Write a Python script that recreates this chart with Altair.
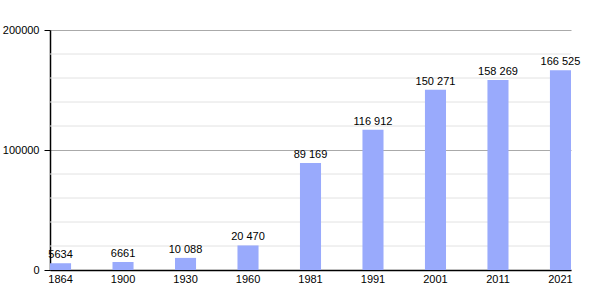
import altair as alt
import pandas as pd

years = ["1864", "1900", "1930", "1960", "1981", "1991", "2001", "2011", "2021"]
population = [5634, 6661, 10088, 20470, 89169, 116912, 150271, 158269, 166525]
labels = ["5634", "6661", "10 088", "20 470", "89 169", "116 912", "150 271", "158 269", "166 525"]
minor_grid = [20000, 40000, 60000, 80000, 120000, 140000, 160000, 180000]

df = pd.DataFrame({"year": years, "pop": population, "label": labels})
gdf = pd.DataFrame({"v": minor_grid})

FONT = "Liberation Sans"

yscale = alt.Scale(domain=[0, 200000], nice=False)
yaxis = alt.Axis(values=[0, 100000, 200000], format="d", grid=True, gridColor="#aaaaaa",
                 gridWidth=1, tickSize=6, tickColor="black", domainColor="black",
                 domainWidth=1.5, labelFont=FONT, labelFontSize=11, labelColor="black",
                 labelPadding=5)

x = alt.X("year:N", sort=years, title=None,
          scale=alt.Scale(paddingInner=0.663, paddingOuter=0),
          axis=alt.Axis(labelAngle=0, ticks=False, domainColor="black", domainWidth=1.5,
                        labelFont=FONT, labelFontSize=11, labelColor="black", labelPadding=3))

minor = alt.Chart(gdf).mark_rule(color="#e2e2e2", strokeWidth=1).encode(
    y=alt.Y("v:Q", scale=yscale, title=None, axis=yaxis)
)

bars = alt.Chart(df).mark_bar(color="#99aafc").encode(
    x=x,
    y=alt.Y("pop:Q", scale=yscale, title=None, axis=yaxis)
)

text = alt.Chart(df).mark_text(baseline="bottom", dy=-3, font=FONT, fontSize=11, color="black").encode(
    x=alt.X("year:N", sort=years, title=None),
    y=alt.Y("pop:Q", scale=yscale, title=None, axis=yaxis),
    text="label:N",
)

chart = alt.layer(minor, bars, text).properties(
    width=521, height=240,
    autosize=alt.AutoSizeParams(type="none"),
    padding={"left": 50, "top": 30, "right": 29, "bottom": 30},
    background="white",
).configure_view(stroke=None)

chart.save("out.html", embed_options={"renderer": "svg", "actions": False})
